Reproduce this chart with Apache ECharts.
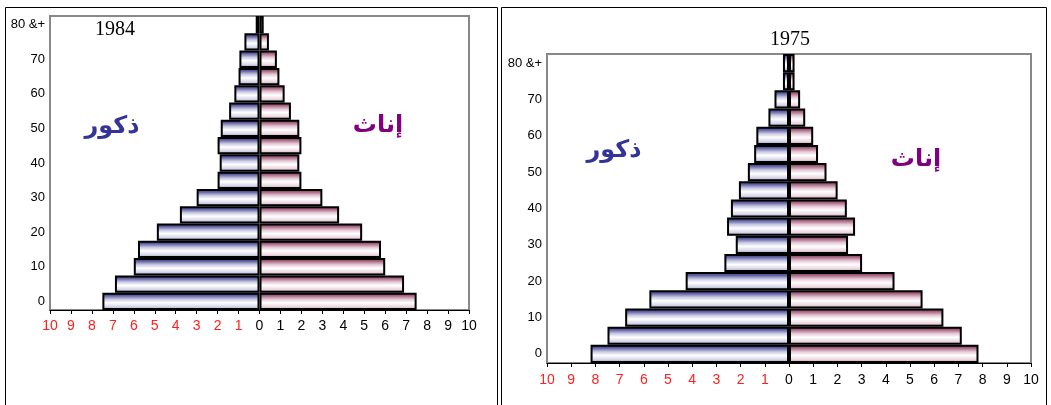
<!DOCTYPE html>
<html>
<head>
<meta charset="utf-8">
<script src="https://cdn.jsdelivr.net/npm/echarts@6/dist/echarts.min.js"></script>
<style>
html,body{margin:0;padding:0;background:#fff;}
#chart{width:1051px;height:405px;}
</style>
</head>
<body>
<div id="chart"></div>
<script>
// Age groups (bottom to top)
var ageGroups = ['0','5','10','15','20','25','30','35','40','45','50','55','60','65','70','75','80 &+'];
// 1984 pyramid (% of population)
var males1984   = [7.5, 6.9, 6.0, 5.8, 4.9, 3.8, 3.0, 2.0, 1.9, 2.0, 1.85, 1.45, 1.2, 1.0, 0.96, 0.72, 0.18];
var females1984 = [7.5, 6.9, 6.0, 5.8, 4.9, 3.8, 3.0, 2.0, 1.9, 2.0, 1.9, 1.5, 1.2, 0.95, 0.83, 0.45, 0.2];
// 1975 pyramid
var males1975   = [8.2, 7.5, 6.77, 5.77, 4.27, 2.67, 2.2, 2.56, 2.4, 2.07, 1.7, 1.44, 1.35, 0.85, 0.6, 0.25, 0.25];
var females1975 = [7.83, 7.14, 6.38, 5.52, 4.36, 3.02, 2.44, 2.73, 2.39, 2.01, 1.55, 1.2, 1.0, 0.67, 0.46, 0.23, 0.23];
var xTicks = [-10,-9,-8,-7,-6,-5,-4,-3,-2,-1,0,1,2,3,4,5,6,7,8,9,10];
var maleLabel = 'ذكور';
var femaleLabel = 'إناث';
var titles = ['1984', '1975'];

var chart = echarts.init(document.getElementById('chart'));

function maleFill(){
  return new echarts.graphic.LinearGradient(0,0,0,1,[
    {offset:0,color:'#24246e'},{offset:0.18,color:'#6464a6'},{offset:0.38,color:'#c8c8e2'},
    {offset:0.58,color:'#ffffff'},{offset:0.82,color:'#d4d4e8'},{offset:1,color:'#8484b6'}]);
}
function femaleFill(){
  return new echarts.graphic.LinearGradient(0,0,0,1,[
    {offset:0,color:'#6e2040'},{offset:0.18,color:'#a86884'},{offset:0.38,color:'#e4c8d4'},
    {offset:0.58,color:'#ffffff'},{offset:0.82,color:'#ead6de'},{offset:1,color:'#b48498'}]);
}

function xAxisFor(gi){
  return {
    type:'value', gridIndex:gi, min:-10, max:10, interval:1,
    axisLine:{show:true,onZero:false,lineStyle:{color:'#000',width:1}},
    axisTick:{show:true,length:4,lineStyle:{color:'#000'}},
    splitLine:{show:false},
    axisLabel:{
      margin:gi===0?9:10,
      fontFamily:'Liberation Sans, Arial, sans-serif', fontSize:14,
      formatter:function(v){ return v<0 ? '{r|'+Math.abs(v)+'}' : '{b|'+v+'}'; },
      rich:{r:{color:'#ff2020',fontFamily:'Liberation Sans',fontSize:14},b:{color:'#000',fontFamily:'Liberation Sans',fontSize:14}}
    }
  };
}
function yAxisFor(gi){
  return {
    type:'category', gridIndex:gi, data:ageGroups,
    axisLine:{show:false,onZero:false}, axisTick:{show:false},
    axisLabel:{
      margin:5, color:'#000', fontFamily:'Liberation Sans, Arial, sans-serif', fontSize:13,
      interval:function(i){ return i%2===0; },
      formatter:function(v){ return v; }
    }
  };
}
function barSeries(gi, data, isMale){
  return {
    type:'bar', xAxisIndex:gi, yAxisIndex:gi, stack:'s'+gi,
    barCategoryGap:'0%',
    data:data.map(function(v){ return isMale ? -v : v; }),
    itemStyle:{color:isMale?maleFill():femaleFill(), borderColor:'#000', borderWidth:2},
    emphasis:{disabled:true},
    silent:true, animation:false
  };
}

var option = {
  animation:false,
  grid:[
    {left:50, top:16, width:419, height:294, show:true, borderColor:'#888', borderWidth:2, backgroundColor:'#fff'},
    {left:547, top:54, width:484, height:309, show:true, borderColor:'#888', borderWidth:2, backgroundColor:'#fff'}
  ],
  xAxis:[xAxisFor(0), xAxisFor(1)],
  yAxis:[yAxisFor(0), yAxisFor(1)],
  series:[
    barSeries(0, males1984, true), barSeries(0, females1984, false),
    barSeries(1, males1975, true), barSeries(1, females1975, false)
  ],
  graphic:[
    {type:'rect', z:-10, shape:{x:5.5,y:7.5,width:492,height:420}, style:{fill:null,stroke:'#000',lineWidth:1}},
    {type:'rect', z:-10, shape:{x:501.5,y:7.5,width:545,height:420}, style:{fill:null,stroke:'#000',lineWidth:1}},
    {type:'text', x:115, y:30, z:10, style:{text:titles[0], fill:'#000', font:'20px "Liberation Serif", "Times New Roman", serif', align:'center', verticalAlign:'middle'}},
    {type:'text', x:790, y:40, z:10, style:{text:titles[1], fill:'#000', font:'20px "Liberation Serif", "Times New Roman", serif', align:'center', verticalAlign:'middle'}},
    {type:'text', x:112, y:127, z:10, style:{text:maleLabel, fill:'#33339a', font:'bold 24px "DejaVu Sans", sans-serif', align:'center', verticalAlign:'middle'}},
    {type:'text', x:378, y:126, z:10, style:{text:femaleLabel, fill:'#800080', font:'bold 24px "DejaVu Sans", sans-serif', align:'center', verticalAlign:'middle'}},
    {type:'text', x:614, y:151, z:10, style:{text:maleLabel, fill:'#33339a', font:'bold 24px "DejaVu Sans", sans-serif', align:'center', verticalAlign:'middle'}},
    {type:'text', x:916, y:160, z:10, style:{text:femaleLabel, fill:'#800080', font:'bold 24px "DejaVu Sans", sans-serif', align:'center', verticalAlign:'middle'}}
  ]
};
chart.setOption(option);
</script>
</body>
</html>
